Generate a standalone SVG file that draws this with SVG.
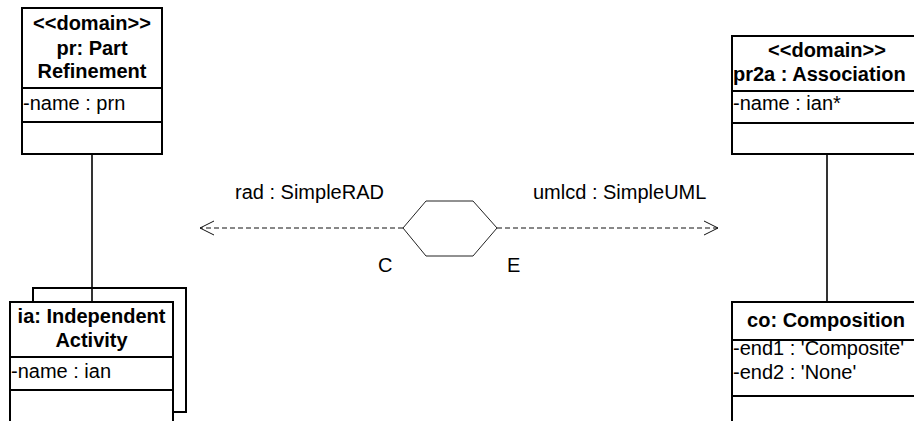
<svg xmlns="http://www.w3.org/2000/svg" width="914" height="421" viewBox="0 0 914 421">
<defs>
<style>
.box{fill:#fff;stroke:#000;stroke-width:2}
.div{stroke:#000;stroke-width:2;fill:none}
.t{font-family:"Liberation Sans",Arial,sans-serif;font-size:20px;fill:#000}
.b{font-weight:bold;text-anchor:middle}
.link{stroke:#000;stroke-width:1.6;fill:none}
.dash{stroke:#111;stroke-width:1;stroke-dasharray:5 3;fill:none}
</style>
<marker id="open" viewBox="0 0 16 16" refX="15" refY="8" markerWidth="16" markerHeight="16" markerUnits="userSpaceOnUse" orient="auto">
<path d="M1,1 L15,8 L1,15" fill="none" stroke="#111" stroke-width="1"/>
</marker>
</defs>
<rect width="914" height="421" fill="#fff"/>
<g id="connectors">
<line class="link" x1="92" y1="154" x2="92" y2="302"/>
<line class="link" x1="827" y1="154" x2="827" y2="302"/>
<line class="dash" x1="403" y1="228" x2="200" y2="228" marker-end="url(#open)"/>
<line class="dash" x1="497" y1="228" x2="718" y2="228" marker-end="url(#open)"/>
</g>
<g id="pr">
<rect class="box" x="22" y="8" width="140" height="146"/>
<line class="div" x1="22" y1="88" x2="162" y2="88"/>
<line class="div" x1="22" y1="122" x2="162" y2="122"/>
<text class="t b" x="92" y="30">&lt;&lt;domain&gt;&gt;</text>
<text class="t b" x="92" y="54.5">pr: Part</text>
<text class="t b" x="92" y="78">Refinement</text>
<text class="t" x="23" y="110">-name : prn</text>
</g>
<g id="ia">
<path class="div" d="M33,302 V288 H186 V412 H173"/>
<path class="box" d="M10,425 V302 H173 V425"/>
<line class="div" x1="10" y1="357" x2="173" y2="357"/>
<line class="div" x1="10" y1="390" x2="173" y2="390"/>
<text class="t b" x="91.5" y="323">ia: Independent</text>
<text class="t b" x="91.5" y="347">Activity</text>
<text class="t" x="11" y="378">-name : ian</text>
</g>
<g id="pr2a">
<path class="box" d="M920,36 H732 V154 H920"/>
<line class="div" x1="732" y1="91" x2="920" y2="91"/>
<line class="div" x1="732" y1="123" x2="920" y2="123"/>
<text class="t b" x="827" y="57">&lt;&lt;domain&gt;&gt;</text>
<text class="t" font-weight="bold" x="733" y="81">pr2a : Association</text>
<text class="t" x="733" y="110">-name : ian*</text>
</g>
<g id="co">
<path class="box" d="M920,302 H732 V425"/>
<line class="div" x1="732" y1="340" x2="920" y2="340"/>
<line class="div" x1="732" y1="396" x2="920" y2="396"/>
<text class="t b" x="826" y="327">co: Composition</text>
<text class="t" x="733" y="355">-end1 : 'Composite'</text>
<text class="t" x="733" y="379">-end2 : 'None'</text>
</g>
<g id="hex">
<polygon points="403,228 426,201 473,201 497,228 473,256 426,256" fill="#fff" stroke="#222" stroke-width="1"/>
</g>
<g id="labels">
<text class="t" x="235" y="199">rad : SimpleRAD</text>
<text class="t" x="533" y="199">umlcd : SimpleUML</text>
<text class="t" x="378" y="272">C</text>
<text class="t" x="507" y="272">E</text>
</g>
</svg>
